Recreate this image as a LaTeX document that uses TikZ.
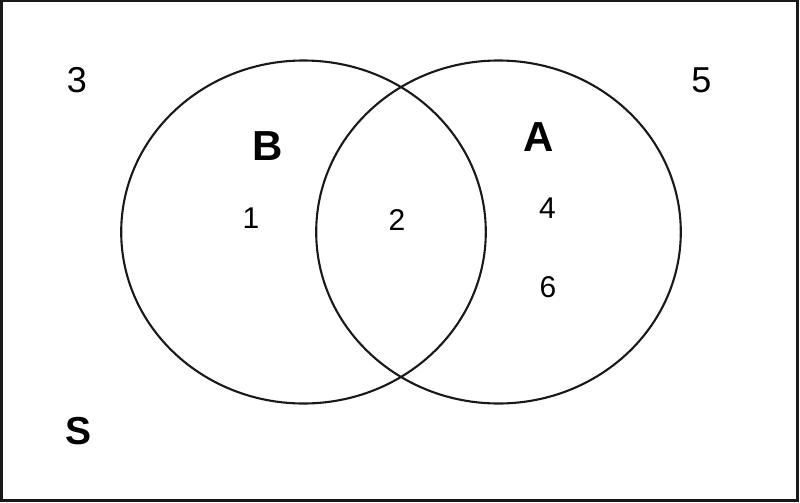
\documentclass[tikz,border=0pt]{standalone}
\usepackage{fontspec}
\setmainfont{Liberation Sans}
\begin{document}
\begin{tikzpicture}[x=1pt,y=-1pt,
  setline/.style={line width=2.1pt,draw=black!90},
  framebox/.style={line width=2.6pt,draw=black!90},
  num/.style={inner sep=0pt,anchor=center,font=\fontsize{30}{30}\selectfont},
  bignum/.style={inner sep=0pt,anchor=center,font=\fontsize{36}{36}\selectfont},
  setlabel/.style={inner sep=0pt,anchor=center,font=\fontsize{42}{42}\selectfont\bfseries}]
\useasboundingbox (0,0) rectangle (800,503);
\draw[framebox] (1.2,1.2) rectangle (797.5,500.5);
\draw[setline] (303.5,232) ellipse [x radius=182.3, y radius=171.5];
\draw[setline] (498.5,232) ellipse [x radius=182.3, y radius=171.5];
\node[bignum] (n3) at (77,80) {3};
\node[bignum] (n5) at (701.5,80) {5};
\node[setlabel] (lb) at (267.5,146.5) {B};
\node[setlabel] (la) at (539,137.5) {A};
\node[num] (n1) at (251,218) {1};
\node[num] (n2) at (397,220) {2};
\node[num] (n4) at (547.5,208.5) {4};
\node[num] (n6) at (548,287.5) {6};
\node[inner sep=0pt,anchor=center,font=\fontsize{39}{39}\selectfont\bfseries] (ls) at (79,431) {S};
\end{tikzpicture}
\end{document}
